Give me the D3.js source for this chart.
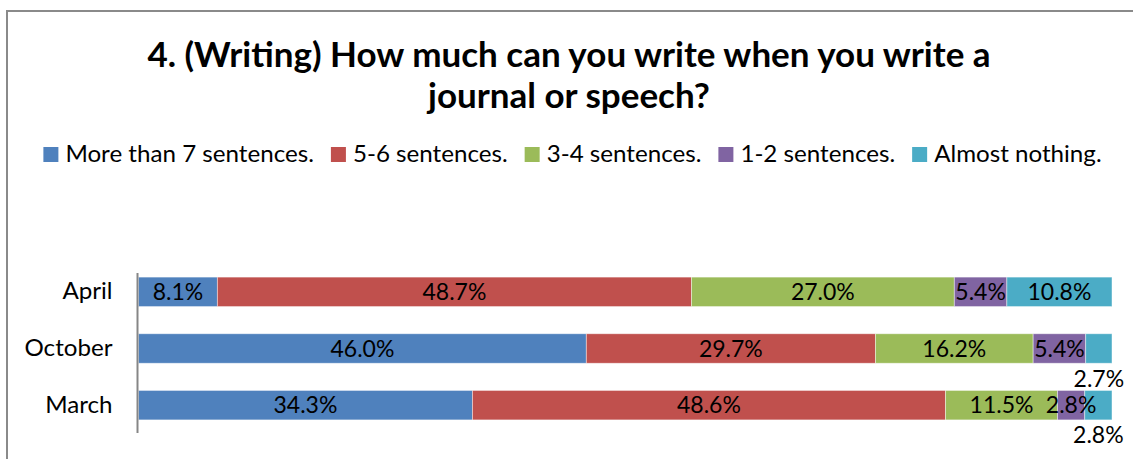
<!DOCTYPE html>
<html>
<head>
<meta charset="utf-8">
<script src="https://cdn.jsdelivr.net/npm/d3@7"></script>
<style>
  html, body { margin: 0; padding: 0; background: #fff; }
  svg { display: block; }
  text { font-family: Lato, "Open Sans", sans-serif; fill: #000; }
</style>
</head>
<body>
<svg id="chart" width="1133" height="459"></svg>
<script>
// Survey months, top to bottom
const categories = ["April", "October", "March"];

// Answer groups, in stacking order
const seriesNames = [
  "More than 7 sentences.",
  "5-6 sentences.",
  "3-4 sentences.",
  "1-2 sentences.",
  "Almost nothing."
];

// Share of answers (%) per month, one array per answer group
const moreThan7 = [8.1, 46.0, 34.3];
const fiveToSix = [48.7, 29.7, 48.6];
const threeToFour = [27.0, 16.2, 11.5];
const oneToTwo = [5.4, 5.4, 2.8];
const almostNothing = [10.8, 2.7, 2.8];

const seriesValues = [moreThan7, fiveToSix, threeToFour, oneToTwo, almostNothing];
const colors = ["#4F81BD", "#C0504D", "#9BBB59", "#8064A2", "#4BACC6"];

const titleLines = [
  "4. (Writing) How much can you write when you write a",
  "journal or speech?"
];

// Horizontal widening applied to body text
const TEXT_SX = 1.05;

// Moves a text's x/y into a transform so it can be widened about its anchor
function widen(sel, sx) {
  sel.each(function () {
    const t = d3.select(this);
    const tx = +t.attr("x") || 0;
    const ty = +t.attr("y") || 0;
    t.attr("x", 0).attr("y", 0)
      .attr("transform", `translate(${tx},${ty}) scale(${sx},1)`);
  });
}

const svg = d3.select("#chart");

// Chart frame (runs off the right and bottom edges)
svg.append("rect")
  .attr("x", 7).attr("y", 11)
  .attr("width", 1140).attr("height", 470)
  .attr("fill", "none")
  .attr("stroke", "#8a8a8a")
  .attr("stroke-width", 2);

// Title
svg.append("g").selectAll("text")
  .data(titleLines)
  .join("text")
  .attr("x", 569)
  .attr("y", (d, i) => 67 + i * 41)
  .attr("text-anchor", "middle")
  .attr("font-weight", "bold")
  .attr("font-size", 35)
  .text(d => d);

// Rows: one record per month with cumulative offsets
const rows = categories.map((c, i) => {
  let acc = 0;
  const segs = seriesValues.map((vals, s) => {
    const seg = { cat: c, series: s, value: vals[i], x0: acc, x1: acc + vals[i] };
    acc += vals[i];
    return seg;
  });
  return { cat: c, segs };
});

const x = d3.scaleLinear().domain([0, 100]).range([138.5, 1112]);
const y = d3.scaleBand().domain(categories).range([263.5, 433.5])
  .paddingInner(0.48).paddingOuter(0.24);

// Stacked bars
const segs = rows.flatMap(r => r.segs);
svg.append("g").selectAll("rect")
  .data(segs)
  .join("rect")
  .attr("x", d => x(d.x0))
  .attr("y", d => y(d.cat))
  .attr("width", d => x(d.x1) - x(d.x0))
  .attr("height", y.bandwidth())
  .attr("fill", d => colors[d.series])
  .attr("stroke", "rgba(255,255,255,0.55)")
  .attr("stroke-width", 0.8);

// Value labels: centred in the segment; thin "Almost nothing." slices get theirs below the bar
svg.append("g").selectAll("text")
  .data(segs)
  .join("text")
  .attr("x", d => x((d.x0 + d.x1) / 2))
  .attr("y", d => {
    const below = d.series === seriesNames.length - 1 && d.value < 5;
    return below ? y(d.cat) + y.bandwidth() + 15 : y(d.cat) + y.bandwidth() / 2;
  })
  .attr("dy", "0.36em")
  .attr("text-anchor", "middle")
  .attr("font-size", 23)
  .text(d => d.value.toFixed(1) + "%");

// Category axis
const axis = svg.append("g")
  .attr("transform", "translate(137.5,0)")
  .call(d3.axisLeft(y).tickSize(0).tickPadding(25));
axis.select(".domain")
  .attr("d", "M0,273V433")
  .attr("stroke", "#868686")
  .attr("stroke-width", 2);
axis.selectAll(".tick text")
  .attr("font-family", "Lato, sans-serif")
  .attr("font-size", 23)
  .attr("fill", "#000")
  .call(widen, TEXT_SX);

// Legend, laid out left to right and centred
const legend = svg.append("g");
const items = legend.selectAll("g")
  .data(seriesNames)
  .join("g");
items.append("rect")
  .attr("width", 15).attr("height", 15)
  .attr("y", 147)
  .attr("fill", (d, i) => colors[i]);
const labels = items.append("text")
  .attr("x", 22)
  .attr("y", 162)
  .attr("font-size", 23)
  .text(d => d);
let cursor = 0;
const offsets = [];
labels.each(function () {
  offsets.push(cursor);
  cursor += 22 + this.getComputedTextLength() * TEXT_SX + 17;
});
labels.call(widen, TEXT_SX);
const total = cursor - 17;
const left = 572.5 - total / 2;
items.attr("transform", (d, i) => `translate(${left + offsets[i]},0)`);
</script>
</body>
</html>
